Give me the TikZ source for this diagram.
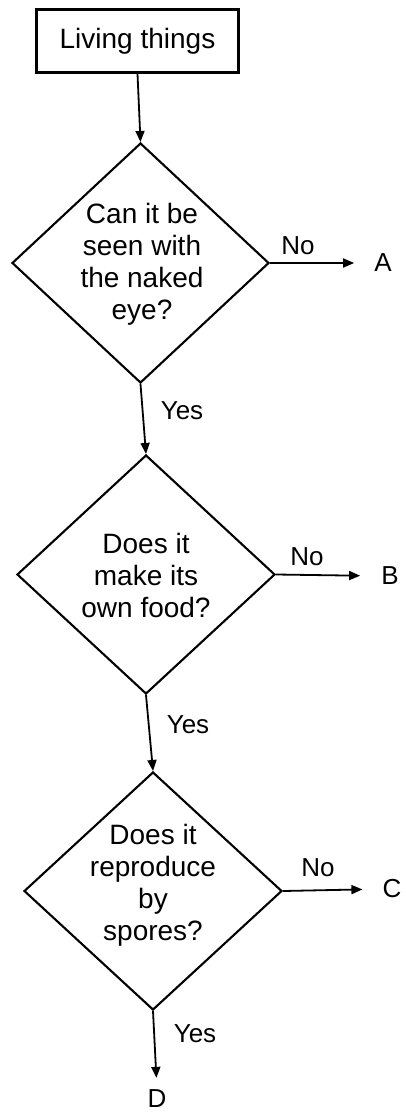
\documentclass[tikz,border=0pt]{standalone}
\usepackage{fontspec}
\setmainfont{Liberation Sans}
\usetikzlibrary{shapes.geometric,arrows.meta}
\tikzset{
  box/.style={draw, line width=2.4pt, minimum width=202pt, minimum height=63pt, inner sep=0pt, font=\fontsize{28}{32}\selectfont},
  dia/.style={draw, diamond, line width=2.1pt, inner sep=0pt},
  qtext/.style={align=center, font=\fontsize{28}{32}\selectfont, inner sep=0pt},
  lbl/.style={font=\fontsize{26}{30}\selectfont, inner sep=0pt},
  arr/.style={line width=1.8pt, -{Triangle[length=11pt,width=9pt]}},
}
\begin{document}
\begin{tikzpicture}[x=1pt,y=-1pt]
\useasboundingbox (0,0) rectangle (405,1115);
\node[box] (start) at (137.5,41) {Living things};
\node[dia, minimum width=257pt, minimum height=240pt] (d1) at (140.5,263) {};
\node[qtext] (q1) at (142,264) {Can it be\\seen with\\the naked\\eye?};
\node[dia, minimum width=258pt, minimum height=239pt] (d2) at (146,574.5) {};
\node[qtext] (q2) at (146,575) {Does it\\make its\\own food?};
\node[dia, minimum width=258pt, minimum height=238pt] (d3) at (153,891) {};
\node[qtext] (q3) at (153,885) {Does it\\reproduce\\by\\spores?};
\node[lbl] (a) at (383,263) {A};
\node[lbl] (b) at (390,576) {B};
\node[lbl] (c) at (392,889) {C};
\node[lbl] (d) at (157,1099) {D};
\draw[arr] (start.south) -- (d1.north);
\draw[arr] (d1.south) -- (d2.north);
\draw[arr] (d2.south) -- (d3.north);
\draw[arr, shorten >=12pt] (d3.south) -- (d.north);
\draw[arr, shorten >=20pt] (d1.east) -- (a.west);
\draw[arr, shorten >=21pt] (d2.east) -- (b.west);
\draw[arr, shorten >=20pt] (d3.east) -- (c.west);
\node[lbl] (n1) at (298,246) {No};
\node[lbl] (n2) at (307,557) {No};
\node[lbl] (n3) at (318,868) {No};
\node[lbl] (y1) at (182,411) {Yes};
\node[lbl] (y2) at (188,725) {Yes};
\node[lbl] (y3) at (195,1034) {Yes};
\end{tikzpicture}
\end{document}
